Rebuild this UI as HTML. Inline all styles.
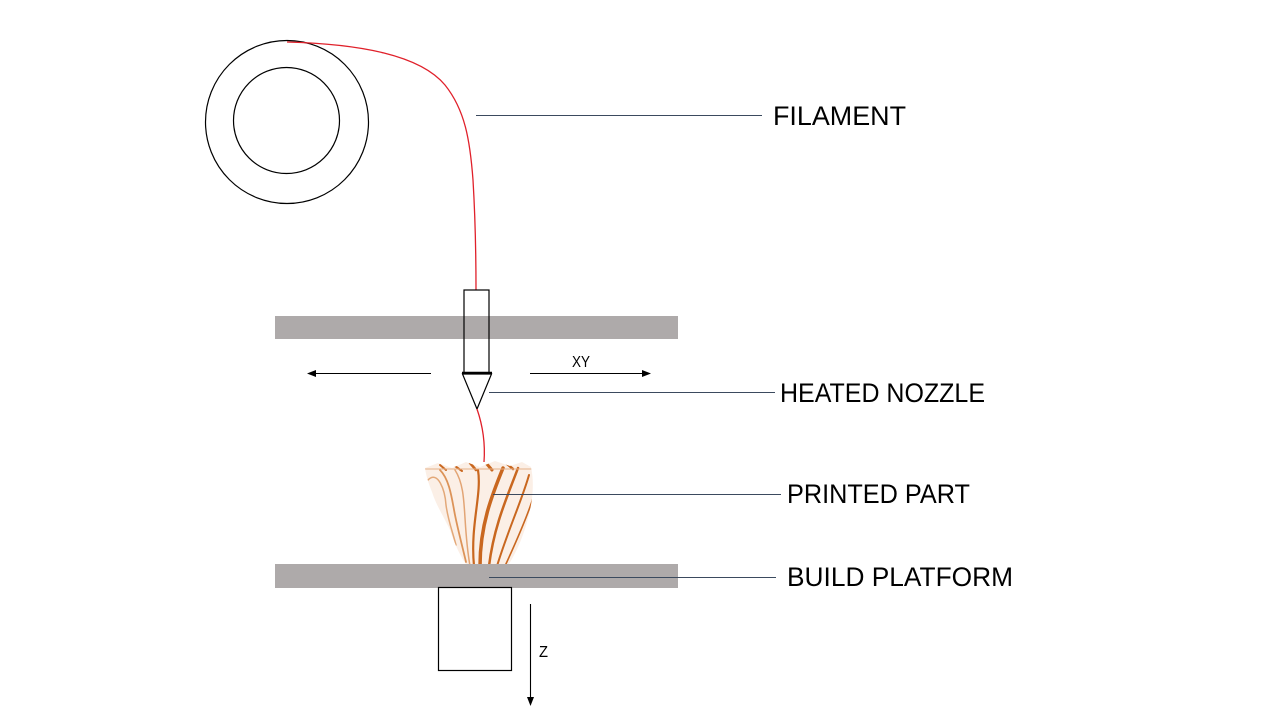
<!DOCTYPE html>
<html>
<head>
<meta charset="utf-8">
<style>
  html, body { margin: 0; padding: 0; background: #ffffff; }
  body { width: 1280px; height: 720px; overflow: hidden; }
  svg { display: block; }
  text { font-family: "Liberation Sans", "DejaVu Sans", sans-serif; fill: #000; }
</style>
</head>
<body>
<svg width="1280" height="720" viewBox="0 0 1280 720" xmlns="http://www.w3.org/2000/svg">
  <rect width="1280" height="720" fill="#ffffff"/>

  <!-- Spool -->
  <circle cx="287" cy="122" r="81.5" fill="none" stroke="#000" stroke-width="1.2"/>
  <circle cx="286.5" cy="120.5" r="53" fill="none" stroke="#000" stroke-width="1.2"/>

  <!-- Filament -->
  <path d="M287,42 C360,44 420,55 445,85 C465,110 470,140 473,180 Q476,230 476,290" fill="none" stroke="#e0202a" stroke-width="1.3"/>

  <!-- Filament leader -->
  <line x1="476" y1="115.5" x2="762" y2="115.5" stroke="#3b4a5e" stroke-width="1"/>
  <text x="773" y="125" font-size="27" textLength="133" lengthAdjust="spacingAndGlyphs">FILAMENT</text>

  <!-- Top gantry bar -->
  <rect x="275" y="316" width="403" height="23" fill="#aeaaaa"/>

  <!-- Nozzle body -->
  <rect x="464" y="290" width="25" height="83" fill="none" stroke="#000" stroke-width="1.2"/>
  <line x1="462" y1="373" x2="492" y2="373" stroke="#000" stroke-width="2.5"/>
  <!-- Nozzle tip -->
  <path d="M462.5,374 L491.5,374 L477,409 Z" fill="#ffffff" stroke="#000" stroke-width="1.2" stroke-linejoin="miter"/>

  <!-- Filament out of nozzle -->
  <path d="M477,409 Q486,435 484,462" fill="none" stroke="#e0202a" stroke-width="1.3"/>

  <!-- XY arrows -->
  <line x1="431" y1="373.5" x2="314" y2="373.5" stroke="#000" stroke-width="1.1"/>
  <path d="M307,373.5 L316,370 L316,377 Z" fill="#000"/>
  <line x1="530" y1="373.5" x2="643" y2="373.5" stroke="#000" stroke-width="1.1"/>
  <path d="M651,373.5 L642,370 L642,377 Z" fill="#000"/>
  <text x="572" y="367" font-size="16" textLength="18" lengthAdjust="spacingAndGlyphs">XY</text>

  <!-- Heated nozzle leader -->
  <line x1="489" y1="392.5" x2="775" y2="392.5" stroke="#3b4a5e" stroke-width="1"/>
  <text x="780" y="402" font-size="27" textLength="205" lengthAdjust="spacingAndGlyphs">HEATED NOZZLE</text>

  <!-- Printed part (vase) -->
  <defs>
    <clipPath id="vaseClip">
      <path d="M425,468 L438,463 L452,468 L466,462 L480,467 L495,461 L510,466 L522,462 L531,467 C535,485 532,505 527,522 C522,540 515,555 507,567 L468,567 C460,556 455,545 450,530 C443,515 436,505 432,492 C428,482 426,475 425,468 Z"/>
    </clipPath>
  </defs>
  <path d="M425,468 L438,463 L452,468 L466,462 L480,467 L495,461 L510,466 L522,462 L531,467 C535,485 532,505 527,522 C522,540 515,555 507,567 L468,567 C460,556 455,545 450,530 C443,515 436,505 432,492 C428,482 426,475 425,468 Z" fill="#fbefe6"/>
  <g clip-path="url(#vaseClip)" fill="none" stroke="#c9671f" stroke-linecap="round">
    <path d="M428,480 C438,470 445,490 446,505 C448,520 452,530 456,545" stroke-width="1.5" stroke="#e3a878"/>
    <path d="M440,470 C450,480 452,500 455,515 C458,530 462,545 466,562" stroke-width="1.8" stroke="#dc9358"/>
    <path d="M455,470 C468,490 462,520 470,566" stroke-width="1.5" stroke="#e2a474"/>
    <path d="M478,470 C482,495 470,525 474,566" stroke-width="2.2"/>
    <path d="M503,468 C492,495 480,525 480,566" stroke-width="3.5"/>
    <path d="M518,468 C508,495 494,525 489,566" stroke-width="2.5"/>
    <path d="M529,475 C522,500 508,530 497,566" stroke-width="2"/>
    <path d="M534,495 C528,515 517,540 505,566" stroke-width="1.6"/>
    <path d="M486,463 L492,470" stroke-width="3"/>
    <path d="M470,463 L476,470" stroke-width="2.5"/>
    <path d="M455,466 L462,471" stroke-width="2"/>
    <path d="M440,465 L446,470" stroke-width="2"/>
    <path d="M506,463 L513,469" stroke-width="2.5"/>
    <path d="M425,469 L531,469" stroke-width="1" stroke="#e6b088"/>
  </g>

  <!-- Printed part leader -->
  <line x1="493" y1="494.5" x2="781" y2="494.5" stroke="#3b4a5e" stroke-width="1"/>
  <text x="787" y="503" font-size="27" textLength="183" lengthAdjust="spacingAndGlyphs">PRINTED PART</text>

  <!-- Build platform -->
  <rect x="275" y="564" width="403" height="24" fill="#aeaaaa"/>
  <line x1="489" y1="577.5" x2="776" y2="577.5" stroke="#3b4a5e" stroke-width="1"/>
  <text x="787" y="586" font-size="27" textLength="226" lengthAdjust="spacingAndGlyphs">BUILD PLATFORM</text>

  <!-- Z stage box -->
  <rect x="438.5" y="587.5" width="73" height="83" fill="none" stroke="#000" stroke-width="1.2"/>

  <!-- Z arrow -->
  <line x1="530.5" y1="604" x2="530.5" y2="698" stroke="#000" stroke-width="1.1"/>
  <path d="M530.5,706 L527,697 L534,697 Z" fill="#000"/>
  <text x="539" y="657" font-size="16" textLength="9" lengthAdjust="spacingAndGlyphs">Z</text>
</svg>
</body>
</html>
